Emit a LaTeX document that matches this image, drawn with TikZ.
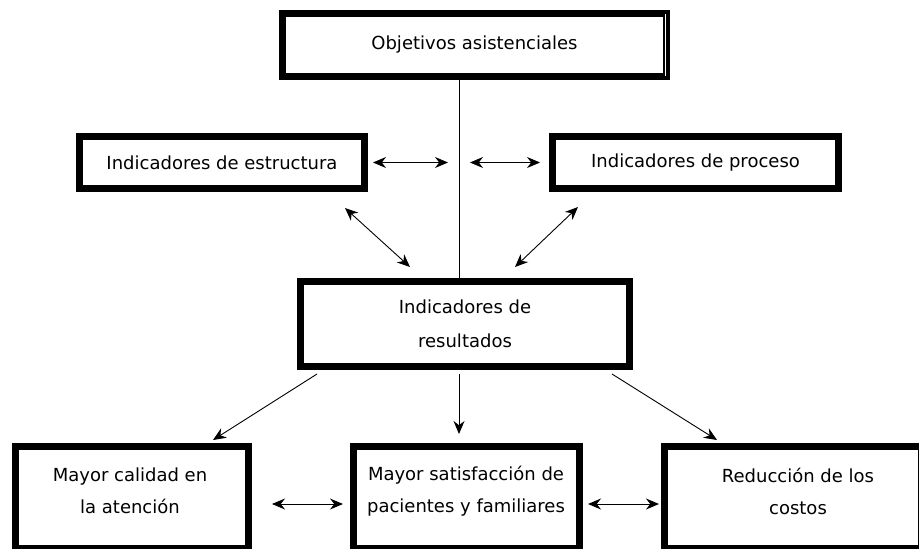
\documentclass[tikz,border=0pt]{standalone}
\usepackage{fontspec}
\setmainfont{DejaVu Sans}
\usetikzlibrary{arrows.meta}
\begin{document}
\begin{tikzpicture}[x=1pt,y=-1pt,
  box/.style={draw, line width=7pt, inner sep=0pt, align=center,
    font=\fontsize{18}{34}\selectfont},
  txt/.style={inner sep=0pt, align=center, font=\fontsize{18}{32}\selectfont},
  link/.style={line width=0.9pt, {Stealth[length=13pt,width=11pt]}-{Stealth[length=13pt,width=11pt]}},
  oneway/.style={line width=0.9pt, -{Stealth[length=13pt,width=11pt]}}]
\useasboundingbox (0,0) rectangle (919,549);
\clip (0,0) rectangle (919,549);
% boxes
\node[box, minimum width=384pt, minimum height=63pt] (top) at (474.5,45) {Objetivos asistenciales};
\node[box, minimum width=285pt, minimum height=52pt] (est) at (222,162.5) {Indicadores de estructura};
\node[box, minimum width=286pt, minimum height=52pt] (pro) at (695.5,162.5) {Indicadores de proceso};
\node[box, minimum width=329pt, minimum height=85pt] (res) at (465,324) {Indicadores de\\resultados};
\node[box, minimum width=233pt, minimum height=102pt] (cal) at (132,497.5) {};
\node[box, minimum width=226pt, minimum height=102pt] (sat) at (466.5,497.5) {};
\node[box, minimum width=257pt, minimum height=102pt] (cos) at (793,497.5) {};
\node[txt] (calt) at (130,491) {Mayor calidad en\\la atención};
\node[txt] (satt) at (466,491) {Mayor satisfacción de\\pacientes y familiares};
\node[txt] (cost) at (798,491) {Reducción de los\\costos};
% white inner line on right border of top box
\draw[white, line width=1pt] (665.5,14) -- (665.5,76);
% vertical spine
\coordinate (vx) at (459,0);
\draw[line width=1pt] (top.south -| vx) -- (res.north -| vx);
% horizontal arrows to the spine
\draw[link, shorten <=5pt, shorten >=11pt] (est.east) -- (est.east -| vx);
\draw[link, shorten <=11pt, shorten >=9pt] (pro.west -| vx) -- (pro.west);
% diagonal arrows
\coordinate (d1a) at (345,208); \coordinate (d1b) at (410,267);
\coordinate (d2a) at (578,207); \coordinate (d2b) at (515,267);
\draw[link] (d1a) -- (d1b);
\draw[link] (d2a) -- (d2b);
% arrows from results
\coordinate (r1a) at (317,374); \coordinate (r1b) at (213,440);
\coordinate (r2a) at (459,374); \coordinate (r2b) at (459,434);
\coordinate (r3a) at (612,374); \coordinate (r3b) at (717,440);
\draw[oneway] (r1a) -- (r1b);
\draw[oneway] (r2a) -- (r2b);
\draw[oneway] (r3a) -- (r3b);
% bottom arrows
\coordinate (b1) at (0,504);
\draw[link, shorten <=20pt, shorten >=7pt] (cal.east |- b1) -- (sat.west |- b1);
\draw[link, shorten <=5pt, shorten >=2pt] (sat.east |- b1) -- (cos.west |- b1);
\end{tikzpicture}
\end{document}
